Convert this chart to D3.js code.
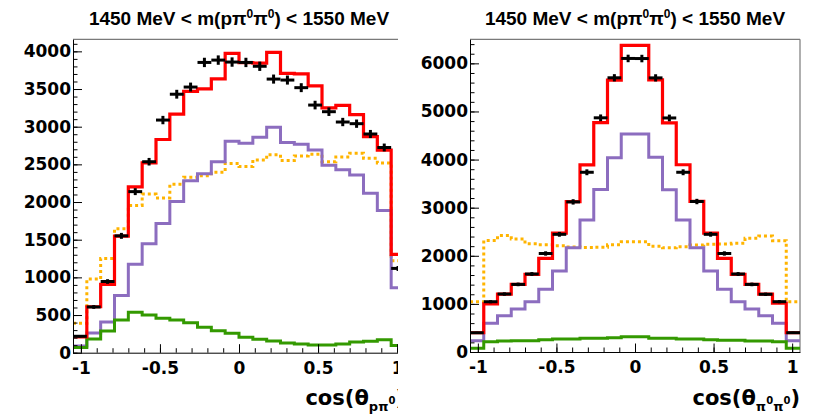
<!DOCTYPE html>
<html><head><meta charset="utf-8">
<script src="https://cdn.jsdelivr.net/npm/d3@7"></script>
<style>body{margin:0;background:#fff}</style>
</head><body>
<svg id="c" width="817" height="417"></svg>
<script>
// ---- data ----
const binEdges = [-1.05,-0.9625,-0.875,-0.7875,-0.7,-0.6125,-0.525,-0.4375,-0.35,-0.2625,-0.175,-0.0875,0,
                  0.0875,0.175,0.2625,0.35,0.4375,0.525,0.6125,0.7,0.7875,0.875,0.9625,1.05];

const leftData   = [218,607,945,1551,2138,2535,3088,3431,3526,3853,3884,3858,3853,3802,3632,3619,3518,3287,3199,3062,3040,2903,2724,1119];
const leftTotal  = [210,610,907,1548,2202,2520,2830,3166,3470,3503,3636,3973,3850,3844,3986,3708,3700,3541,3250,3283,3160,2868,2690,1305];
const leftSignal = [90,262,408,760,1174,1446,1716,2008,2282,2376,2536,2806,2780,2860,2991,2790,2768,2690,2487,2430,2360,2116,1888,862];
const leftOrange = [390,977,1250,1645,1955,2105,2055,2235,2330,2350,2395,2512,2470,2558,2628,2550,2612,2633,2535,2598,2646,2580,2518,1222];
const leftGreen  = [70,182,288,434,536,500,456,434,398,337,292,257,204,178,155,129,115,102,102,115,142,151,172,95];

const rightData   = [400,1045,1205,1405,1621,2048,2446,3120,3736,4868,5700,6102,6100,5698,4865,3736,3128,2446,2048,1621,1405,1200,1046,401];
const rightTotal  = [400,1000,1205,1405,1615,1947,2470,3125,3888,4767,5652,6372,6372,5658,4763,3892,3130,2470,1947,1615,1405,1205,1015,400];
const rightSignal = [236,596,755,894,1046,1303,1684,2169,2744,3378,4036,4532,4532,4047,3375,2744,2169,1684,1303,1046,894,755,596,236];
const rightOrange = [1046,2320,2420,2350,2250,2230,2210,2185,2170,2180,2230,2293,2293,2200,2165,2190,2224,2238,2245,2259,2363,2411,2314,1046];
const rightGreen  = [76,215,229,236,236,256,270,270,284,284,298,319,319,284,284,270,270,256,243,243,229,229,215,76];

const xMajorTicks = [-1,-0.5,0,0.5,1];
const xTickLabels = ["-1","-0.5","0","0.5","1"];
const xMinorTicks = [-1,-0.9,-0.8,-0.7,-0.6,-0.5,-0.4,-0.3,-0.2,-0.1,0,0.1,0.2,0.3,0.4,0.5,0.6,0.7,0.8,0.9,1];
const leftYTicks  = [0,500,1000,1500,2000,2500,3000,3500,4000];
const rightYTicks = [0,1000,2000,3000,4000,5000,6000];

const titleMain = ["1450 MeV < m(p", "π", "0", "π", "0", ") < 1550 MeV"];

// ---- drawing ----
const svg = d3.select("#c");
const defs = svg.append("defs");
defs.append("clipPath").attr("id","clipL").append("rect").attr("x",0).attr("y",0).attr("width",398).attr("height",417);

const colors = {total:"#ff0000", signal:"#8c6dbf", orange:"#ffb400", green:"#339900", data:"#000000"};
const tickFont = "'DejaVu Sans', sans-serif";

function panel(cfg){
  const g = svg.append("g");
  if (cfg.clip) g.attr("clip-path", "url(#" + cfg.clip + ")");
  const x = d3.scaleLinear().domain([-1.05,1.05]).range([cfg.x0,cfg.x1]);
  const y = d3.scaleLinear().domain([0,cfg.ymax]).range([cfg.y1,cfg.y0]);

  g.append("line").attr("x1",x(-1.05)).attr("x2",x(1.05)).attr("y1",y(cfg.ymax)).attr("y2",y(cfg.ymax))
    .attr("stroke","#7a7a7a").attr("stroke-width",1.2);
  g.append("line").attr("x1",x(1.05)).attr("x2",x(1.05)).attr("y1",y(cfg.ymax)).attr("y2",y(0))
    .attr("stroke","#7a7a7a").attr("stroke-width",1.2);

  const stepLine = d3.line().x(d=>x(d[0])).y(d=>y(d[1]));
  function hist(vals, color, w, dash){
    const pts = [];
    vals.forEach((v,i)=>{ pts.push([binEdges[i],v]); pts.push([binEdges[i+1],v]); });
    const p = g.append("path").attr("d",stepLine(pts)).attr("fill","none")
      .attr("stroke",color).attr("stroke-width",w).attr("stroke-linejoin","miter");
    if (dash) p.attr("stroke-dasharray",dash);
  }
  hist(cfg.orange, colors.orange, 3, "3,3");
  hist(cfg.signal, colors.signal, 3);
  hist(cfg.green, colors.green, 3);
  hist(cfg.total, colors.total, 3.2);

  const dg = g.append("g").attr("stroke",colors.data).attr("stroke-width",3);
  cfg.data.forEach((v,i)=>{
    const xc = (binEdges[i]+binEdges[i+1])/2;
    const e = Math.sqrt(v);
    dg.append("line").attr("x1",x(binEdges[i])).attr("x2",x(binEdges[i+1])).attr("y1",y(v)).attr("y2",y(v));
    dg.append("line").attr("x1",x(xc)).attr("x2",x(xc)).attr("y1",y(v-e)).attr("y2",y(v+e));
  });

  const yMinorVals = d3.range(0, cfg.ymax, cfg.yMinor);
  g.append("g").attr("transform",`translate(${x(-1.05)},0)`)
    .call(d3.axisLeft(y).tickValues(yMinorVals).tickSize(-4.5).tickSizeOuter(0).tickFormat(""))
    .call(a=>a.select(".domain").remove())
    .selectAll("line").attr("stroke","#000");
  const ya = g.append("g").attr("transform",`translate(${x(-1.05)},0)`)
    .call(d3.axisLeft(y).tickValues(cfg.yTicks).tickSize(-9).tickSizeOuter(0).tickPadding(2).tickFormat(d=>String(d)));
  ya.attr("font-family",tickFont).attr("font-size",17).attr("font-weight","bold");
  ya.selectAll("text").attr("fill","#000");
  ya.selectAll("line").attr("stroke","#000");
  ya.select(".domain").attr("stroke","#000");

  g.append("g").attr("transform",`translate(0,${y(0)})`)
    .call(d3.axisBottom(x).tickValues(xMinorTicks).tickSize(-4.5).tickSizeOuter(0).tickFormat(""))
    .call(a=>a.select(".domain").remove())
    .selectAll("line").attr("stroke","#000");
  const xa = g.append("g").attr("transform",`translate(0,${y(0)})`)
    .call(d3.axisBottom(x).tickValues(xMajorTicks).tickSize(-8.5).tickSizeOuter(0).tickPadding(9)
      .tickFormat((d,i)=>xTickLabels[i]));
  xa.attr("font-family",tickFont).attr("font-size",17).attr("font-weight","bold");
  xa.selectAll("text").attr("fill","#000");
  xa.selectAll("line").attr("stroke","#000");
  xa.select(".domain").attr("stroke","#000");

  const t = g.append("text").attr("x",x(0)).attr("y",25).attr("text-anchor","middle")
    .attr("font-family","'Liberation Sans', Arial, sans-serif").attr("font-weight","bold").attr("font-size",19).attr("fill","#000");
  t.append("tspan").text(titleMain[0]);
  t.append("tspan").text(titleMain[1]);
  t.append("tspan").attr("font-size",12).attr("dy",-7).text(titleMain[2]);
  t.append("tspan").attr("dy",7).text(titleMain[3]);
  t.append("tspan").attr("font-size",12).attr("dy",-7).text(titleMain[4]);
  t.append("tspan").attr("dy",7).text(titleMain[5]);

  const at = g.append("text").attr("x",x(1.05)).attr("y",405).attr("text-anchor","end")
    .attr("font-family",tickFont).attr("font-weight","bold").attr("font-size",21).attr("fill","#000");
  at.append("tspan").text("cos(θ");
  cfg.sub.forEach((s,k)=>{
    at.append("tspan").attr("font-size",13).attr("dy", k===0 ? 6 : 7).text(s);
    at.append("tspan").attr("font-size",10).attr("dy",-7).text("0");
  });
  at.append("tspan").attr("dy",1).text(")");
}

panel({x0:73, x1:405, y0:39.3, y1:352.7, ymax:4160, yTicks:leftYTicks, yMinor:100, clip:"clipL",
       data:leftData, total:leftTotal, signal:leftSignal, orange:leftOrange, green:leftGreen, sub:["pπ"]});
panel({x0:470, x1:800, y0:39.3, y1:352, ymax:6500, yTicks:rightYTicks, yMinor:200,
       data:rightData, total:rightTotal, signal:rightSignal, orange:rightOrange, green:rightGreen, sub:["π","π"]});
</script>
</body></html>
